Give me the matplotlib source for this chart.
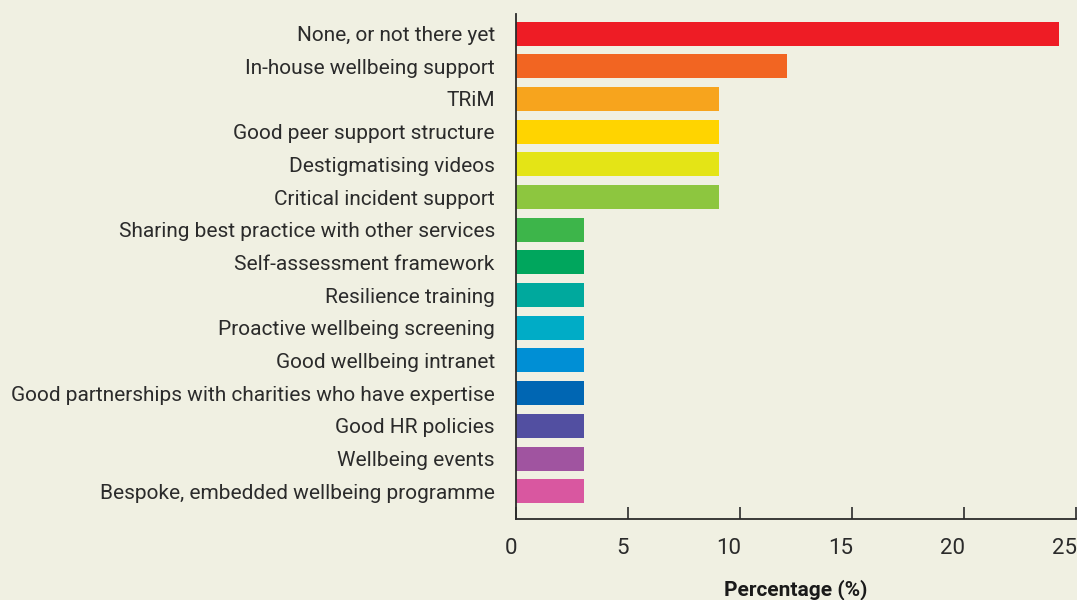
import matplotlib
matplotlib.use("Agg")
import matplotlib.pyplot as plt
import matplotlib.transforms as mtransforms

categories = [
    "None, or not there yet",
    "In-house wellbeing support",
    "TRiM",
    "Good peer support structure",
    "Destigmatising videos",
    "Critical incident support",
    "Sharing best practice with other services",
    "Self-assessment framework",
    "Resilience training",
    "Proactive wellbeing screening",
    "Good wellbeing intranet",
    "Good partnerships with charities who have expertise",
    "Good HR policies",
    "Wellbeing events",
    "Bespoke, embedded wellbeing programme",
]
values = [24.24, 12.12, 9.09, 9.09, 9.09, 9.09,
          3.03, 3.03, 3.03, 3.03, 3.03, 3.03, 3.03, 3.03, 3.03]
colors = ["#ee1c25", "#f26522", "#f7a41d", "#ffd400", "#e4e416", "#8dc63f",
          "#3db54a", "#00a65d", "#00a99d", "#00acc6", "#008fd5", "#0066b3",
          "#524fa1", "#a054a0", "#d957a0"]
xticks = [0, 5, 10, 15, 20, 25]

plt.rcParams["font.family"] = ["Roboto", "DejaVu Sans"]

bg = "#f0f0e2"
ink = "#2b2b2b"

fig = plt.figure(figsize=(10.77, 6.0), dpi=100, facecolor=bg)
ax = fig.add_axes([515.7 / 1077, 1 - 519 / 600, 560 / 1077, 505 / 600])
ax.set_facecolor(bg)

ypos = list(range(len(categories)))
ax.barh(ypos, values, height=0.735, color=colors, zorder=2)
ax.set_ylim(len(categories) - 0.5 + 0.35, -0.5 - 0.1)
ax.set_xlim(0, 25)

ax.set_yticks(ypos)
ax.set_yticklabels(categories, fontsize=15, color=ink)
ax.tick_params(axis="y", length=0, pad=15)

ax.set_xticks(xticks)
ax.set_xticklabels([str(t) for t in xticks], fontsize=16, color=ink, ha="right")
ax.tick_params(axis="x", direction="in", length=8.6, width=1.2, color=ink, pad=14)
offset = mtransforms.ScaledTranslation(1 / 72, 0, fig.dpi_scale_trans)
for lab in ax.get_xticklabels():
    lab.set_transform(lab.get_transform() + offset)

for s in ["top", "right"]:
    ax.spines[s].set_visible(False)
for s in ["left", "bottom"]:
    ax.spines[s].set_color(ink)
    ax.spines[s].set_linewidth(1.3)

ax.set_xlabel("Percentage (%)", fontsize=15, fontweight="bold", color="#1a1a1a", labelpad=14)

fig.savefig("out.png", dpi=100, facecolor=bg)
